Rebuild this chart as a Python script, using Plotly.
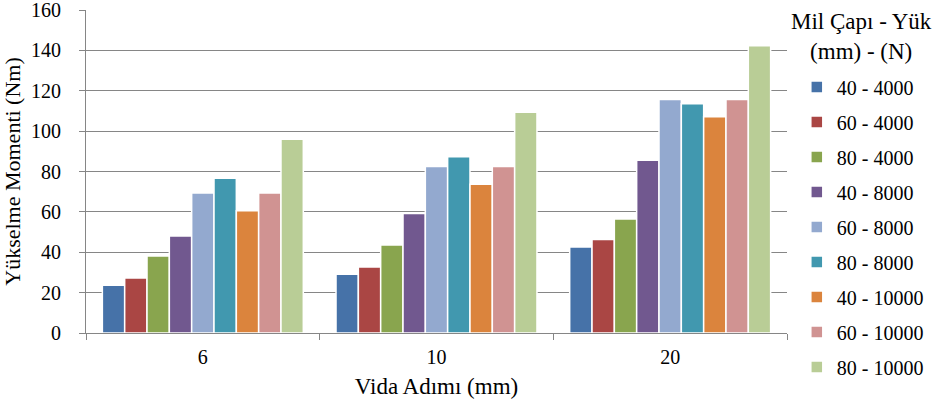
import plotly.graph_objects as go

categories = ["6", "10", "20"]
series_names = ["40 - 4000", "60 - 4000", "80 - 4000", "40 - 8000", "60 - 8000",
                "80 - 8000", "40 - 10000", "60 - 10000", "80 - 10000"]
values = [
    [23.6, 29.1, 42.6],
    [27.3, 32.7, 46.3],
    [38.2, 43.6, 56.5],
    [48.1, 59.2, 85.6],
    [69.4, 82.5, 115.7],
    [76.7, 87.3, 113.5],
    [60.5, 73.7, 107.1],
    [69.4, 82.5, 115.7],
    [96.0, 109.4, 142.3],
]
colors = ["#4672A8", "#AA4644", "#89A54E", "#71588F", "#93A9CF",
          "#4198AF", "#DB843D", "#D09392", "#B9CD96"]
y_ticks = [0, 20, 40, 60, 80, 100, 120, 140, 160]
legend_title = "Mil Çapı - Yük<br>(mm) - (N)"

FONT = "Liberation Serif"

fig = go.Figure()
for i, (name, vals, col) in enumerate(zip(series_names, values, colors)):
    fig.add_trace(go.Bar(
        x=categories, y=vals, name=name, legendgroup=f"g{i}",
        marker=dict(color=col, line=dict(color="white", width=1.5)),
    ))

fig.update_layout(
    width=937, height=406,
    margin=dict(l=86, r=150, t=10, b=73, autoexpand=False),
    paper_bgcolor="white", plot_bgcolor="white",
    font=dict(family=FONT, size=20, color="black"),
    barmode="group", bargap=0.14, bargroupgap=0.0,
    showlegend=True,
    legend=dict(
        x=1.014, y=0.822, xanchor="left", yanchor="top",
        bgcolor="rgba(0,0,0,0)",
        font=dict(family=FONT, size=20),
        tracegroupgap=6, itemwidth=30, maxheight=1.0,
    ),
    annotations=[dict(
        text=legend_title, xref="paper", yref="paper", x=1.1056, y=0.918,
        xanchor="center", yanchor="middle", showarrow=False, align="center",
        font=dict(family=FONT, size=23, color="black"),
    )],
)
fig.update_xaxes(
    type="category", showline=True, linecolor="#868686", linewidth=1,
    ticks="outside", tickson="boundaries", ticklen=6, tickcolor="#868686",
    title=dict(text="Vida Adımı (mm)", font=dict(family=FONT, size=23), standoff=10),
    tickfont=dict(family=FONT, size=20), ticklabelstandoff=6, automargin=False,
)
fig.update_yaxes(
    range=[0, 160], tickvals=y_ticks, ticktext=[str(v) for v in y_ticks],
    showline=True, linecolor="#868686", linewidth=1,
    ticks="outside", ticklen=6, tickcolor="#868686",
    showgrid=True, gridcolor="#868686", gridwidth=1, zeroline=False,
    title=dict(text="Yükselme Momenti (Nm)", font=dict(family=FONT, size=22), standoff=6),
    tickfont=dict(family=FONT, size=20), ticklabelstandoff=14, automargin=False,
    ticklabeloverflow="allow",
)

fig.write_html("out.html", config={"displayModeBar": False},
               post_script="document.body.style.margin='0';")
